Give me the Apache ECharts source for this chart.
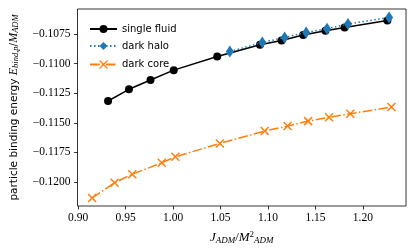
<!DOCTYPE html>
<html>
<head>
<meta charset="utf-8">
<script src="https://cdn.jsdelivr.net/npm/echarts@6/dist/echarts.min.js"></script>
<style>html,body{margin:0;padding:0;background:#fff}#c{width:416px;height:251px}</style>
</head>
<body>
<div id="c"></div>
<script>
const sfX = [0.9315, 0.9535, 0.9762, 1.0007, 1.0465, 1.0916, 1.1143, 1.1371, 1.1605, 1.1807, 1.2258];
const sfY = [-0.11316, -0.11217, -0.11138, -0.11055, -0.10940, -0.10841, -0.10804, -0.10758, -0.10722, -0.10694, -0.10635];
const dhX = [1.0598, 1.0940, 1.1175, 1.1402, 1.1622, 1.1843, 1.2276];
const dhY = [-0.10898, -0.10821, -0.10779, -0.10736, -0.10705, -0.10665, -0.10609];
const dcX = [0.9147, 0.9384, 0.9570, 0.9881, 1.0024, 1.0493, 1.0965, 1.1206, 1.1423, 1.1643, 1.1867, 1.2300];
const dcY = [-0.12136, -0.12008, -0.11935, -0.11839, -0.11788, -0.11675, -0.11570, -0.11528, -0.11486, -0.11454, -0.11424, -0.11367];
const xTicks = [0.90, 0.95, 1.00, 1.05, 1.10, 1.15, 1.20];
const yTicks = [-0.1200, -0.1175, -0.1150, -0.1125, -0.1100, -0.1075];
const seriesNames = ['single fluid', 'dark halo', 'dark core'];

const pair = (xs, ys) => xs.map((x, i) => [x, ys[i]]);
const serif = 'Liberation Serif';
const chart = echarts.init(document.getElementById('c'), null, {renderer: 'canvas'});
const sub = {fontFamily: serif, fontStyle: 'italic', fontSize: 9, verticalAlign: 'bottom', padding: [5, 0, 0, 0]};
chart.setOption({
  animation: false,
  grid: {left: 76, right: 10, top: 9, bottom: 45, show: true, borderColor: '#000', borderWidth: 0.8},
  legend: {
    orient: 'vertical', left: 84, top: 19, itemWidth: 27, itemHeight: 10, itemGap: 7,
    textStyle: {fontFamily: 'DejaVu Sans', fontSize: 10, color: '#000'},
    data: [seriesNames[0], seriesNames[1], {name: seriesNames[2], itemStyle: {borderWidth: 1.2}}]
  },
  xAxis: {
    type: 'value', min: 0.8993, max: 1.2454,
    splitLine: {show: false},
    axisLine: {show: false},
    axisTick: {show: true, length: 3.5, lineStyle: {color: '#000', width: 0.8}, customValues: xTicks},
    axisLabel: {customValues: xTicks, margin: 6, color: '#000', fontFamily: serif, fontSize: 11.5,
      formatter: v => v.toFixed(2)},
    name: '{i|J}{s|ADM}/{i|M}{p|2}{s|ADM}', nameLocation: 'middle', nameGap: 24,
    nameTextStyle: {fontFamily: serif, fontSize: 13, color: '#000',
      rich: {i: {fontFamily: serif, fontStyle: 'italic', fontSize: 13},
             s: sub,
             p: {fontFamily: serif, fontSize: 9, verticalAlign: 'top', padding: [0, 0, 6, 0]}}}
  },
  yAxis: {
    type: 'value', min: -0.12204, max: -0.10538,
    splitLine: {show: false},
    axisLine: {show: false},
    axisTick: {show: true, length: 3.5, lineStyle: {color: '#000', width: 0.8}, customValues: yTicks},
    axisLabel: {customValues: yTicks, margin: 7, color: '#000', fontFamily: serif, fontSize: 11.5,
      formatter: v => '\u2212' + Math.abs(v).toFixed(4)},
    name: 'particle binding energy {i|E}{s|bind,p}/{i|M}{s|ADM}', nameLocation: 'middle', nameGap: 57,
    nameRotate: 90,
    nameTextStyle: {fontFamily: 'DejaVu Sans', fontSize: 10.5, color: '#000',
      rich: {i: {fontFamily: serif, fontStyle: 'italic', fontSize: 12},
             s: {fontFamily: serif, fontStyle: 'italic', fontSize: 8.5, verticalAlign: 'bottom', padding: [4, 0, 0, 0]}}}
  },
  series: [
    {name: seriesNames[0], type: 'line', data: pair(sfX, sfY), symbol: 'circle', symbolSize: 8,
     color: '#000', lineStyle: {color: '#000', width: 1.5}, itemStyle: {color: '#000'}, z: 2},
    {name: seriesNames[1], type: 'line', data: pair(dhX, dhY), symbol: 'diamond', symbolSize: [8, 12],
     color: '#1f77b4', lineStyle: {color: '#1f77b4', width: 1.5, type: [1.5, 2.5]}, itemStyle: {color: '#1f77b4'}, z: 3},
    {name: seriesNames[2], type: 'line', data: pair(dcX, dcY), symbol: 'path://M0,0L10,10M10,0L0,10', symbolSize: 8,
     color: '#ff7f0e', lineStyle: {color: '#ff7f0e', width: 1.5, type: [9.6, 2.4, 1.5, 2.4]},
     itemStyle: {color: 'none', borderColor: '#ff7f0e', borderWidth: 1.5}, z: 4}
  ]
});
</script>
</body>
</html>
